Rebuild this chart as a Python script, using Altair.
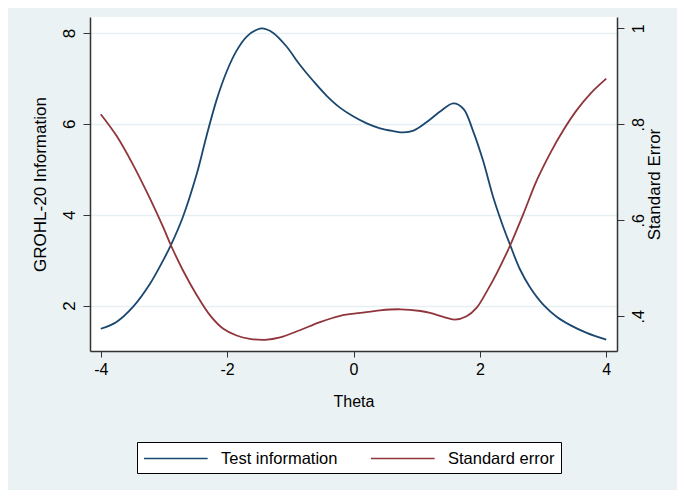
import altair as alt
import pandas as pd

# Test information curve (theta, information)
info_theta = [-4.00, -3.75, -3.49, -3.22, -3.01, -2.89, -2.70, -2.48, -2.33, -2.17,
              -2.01, -1.85, -1.69, -1.53, -1.44, -1.27, -1.06, -0.85, -0.63, -0.42,
              -0.21, 0.00, 0.21, 0.42, 0.63, 0.79, 0.95, 1.16, 1.37, 1.58,
              1.74, 1.89, 2.05, 2.21, 2.37, 2.48, 2.63, 2.79, 3.01, 3.22,
              3.43, 3.69, 4.00]
info_vals = [1.49, 1.64, 1.97, 2.48, 3.00, 3.33, 3.95, 4.90, 5.71, 6.51,
             7.14, 7.61, 7.92, 8.07, 8.10, 8.00, 7.70, 7.30, 6.93, 6.61,
             6.35, 6.16, 6.01, 5.90, 5.84, 5.81, 5.85, 6.04, 6.27, 6.45,
             6.33, 5.85, 5.19, 4.39, 3.73, 3.33, 2.81, 2.41, 2.01, 1.75,
             1.57, 1.40, 1.25]

# Standard error curve (theta, SE)
se_theta = [-4.00, -3.75, -3.49, -3.22, -3.01, -2.89, -2.70, -2.48, -2.27, -2.06,
            -1.85, -1.64, -1.40, -1.16, -0.85, -0.53, -0.21, 0.11, 0.42, 0.74,
            1.06, 1.21, 1.42, 1.60, 1.79, 1.95, 2.11, 2.26, 2.48, 2.69,
            2.90, 3.11, 3.32, 3.53, 3.75, 4.00]
se_vals = [0.821, 0.776, 0.716, 0.645, 0.585, 0.548, 0.496, 0.444, 0.402, 0.374,
           0.360, 0.353, 0.351, 0.356, 0.371, 0.388, 0.401, 0.407, 0.4125, 0.4146,
           0.411, 0.407, 0.399, 0.393, 0.400, 0.418, 0.452, 0.488, 0.548, 0.614,
           0.683, 0.739, 0.7875, 0.829, 0.864, 0.895]

series_names = ["Test information", "Standard error"]
series_colors = ["#1A476F", "#90353B"]

x_ticks = [-4, -2, 0, 2, 4]
left_ticks = [2, 4, 6, 8]
right_ticks = [0.4, 0.6, 0.8, 1.0]

df_info = pd.DataFrame({"theta": info_theta, "value": info_vals, "series": series_names[0]})
df_se = pd.DataFrame({"theta": se_theta, "value": se_vals, "series": series_names[1]})

FONT = "Liberation Sans"

x_enc = alt.X("theta:Q",
              scale=alt.Scale(domain=[-4.17, 4.17], nice=False, zero=False),
              axis=alt.Axis(values=x_ticks, title="Theta", grid=False,
                            labelExpr="'' + datum.value",
                            labelFontSize=16, titleFontSize=16, titleFontWeight="normal",
                            labelPadding=4, titlePadding=16, tickSize=6,
                            domainColor="#333333", tickColor="#333333", domainWidth=1.5,
                            labelColor="black", titleColor="black",
                            labelFont=FONT, titleFont=FONT))

color_enc = alt.Color("series:N",
                      scale=alt.Scale(domain=series_names, range=series_colors),
                      title=None,
                      legend=alt.Legend(orient="none", legendX=47, legendY=425,
                                        direction="horizontal",
                                        fillColor="white", strokeColor="black",
                                        padding=6,
                                        symbolType="M-1,0L5.7,0",
                                        symbolSize=361, symbolStrokeWidth=1.5,
                                        symbolFillColor="transparent",
                                        labelFontSize=16.5, labelOffset=57,
                                        columnPadding=30, labelFont=FONT,
                                        labelColor="black", labelLimit=300))

info_line = alt.Chart(df_info).mark_line(strokeWidth=1.8, interpolate="catmull-rom").encode(
    x=x_enc,
    y=alt.Y("value:Q",
            scale=alt.Scale(domain=[1.0, 8.35], nice=False, zero=False),
            axis=alt.Axis(orient="left", values=left_ticks, title="GROHL-20 Information",
                          labelAngle=270, labelAlign="center", labelBaseline="bottom",
                          titleAngle=270, labelFontSize=17, titleFontSize=17,
                          titleFontWeight="normal", labelPadding=5, titlePadding=11,
                          tickSize=7, grid=True, gridColor="#E6EFF1", gridWidth=1.5,
                          domainColor="#333333", tickColor="#333333", domainWidth=1.5,
                          labelColor="black", titleColor="black",
                          labelFont=FONT, titleFont=FONT)),
    color=color_enc,
)

se_line = alt.Chart(df_se).mark_line(strokeWidth=1.8, interpolate="catmull-rom").encode(
    x=x_enc,
    y=alt.Y("value:Q",
            scale=alt.Scale(domain=[0.3277, 1.0235], nice=False, zero=False),
            axis=alt.Axis(orient="right", values=right_ticks, title="Standard Error",
                          labelExpr="datum.value == 1 ? '1' : replace(format(datum.value, '.1f'), '0.', '.')",
                          labelAngle=270, labelAlign="center", labelBaseline="top",
                          titleAngle=270, titleBaseline="top",
                          labelFontSize=16, titleFontSize=17,
                          titleFontWeight="normal", labelPadding=6, titlePadding=0,
                          tickSize=7, grid=False,
                          domainColor="#333333", tickColor="#333333", domainWidth=1.5,
                          labelColor="black", titleColor="black",
                          labelFont=FONT, titleFont=FONT)),
    color=color_enc,
)

chart = alt.layer(info_line, se_line).resolve_scale(y="independent").properties(
    width=527, height=334,
    padding={"left": 82, "top": 9, "right": 60, "bottom": 139},
    autosize=alt.AutoSizeParams(type="none"),
    background="#EAF2F3",
).configure_view(fill="white", stroke=None)

chart.save("out.html", embed_options={"renderer": "svg", "actions": False})
